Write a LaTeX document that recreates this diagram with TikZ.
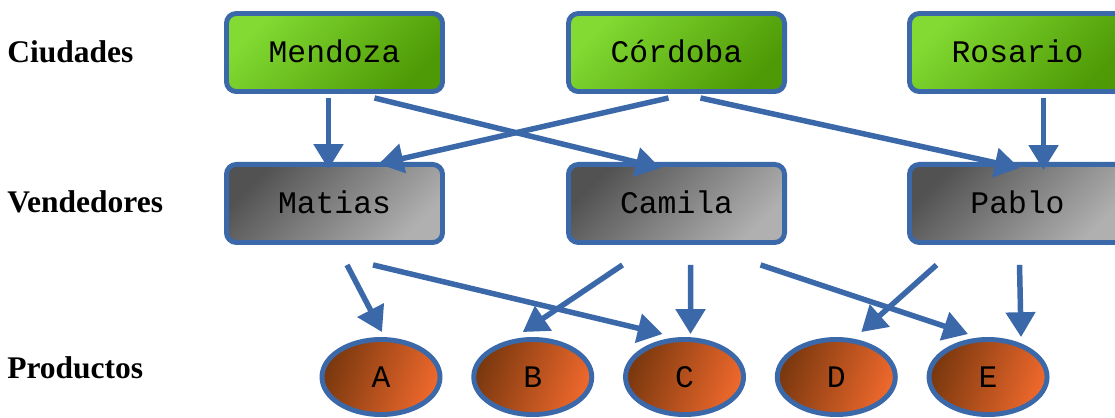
\documentclass[tikz,border=0pt]{standalone}
\usepackage{fontspec}
\setmainfont{Liberation Serif}
\setmonofont{Liberation Mono}
\usetikzlibrary{
  arrows.meta,
  positioning,
  calc,
  shapes.geometric
}
\definecolor{edgeblue}{RGB}{58,104,168}
\definecolor{cityhi}{RGB}{130,218,50}
\definecolor{citylo}{RGB}{78,154,6}
\definecolor{sellerhi}{RGB}{82,82,82}
\definecolor{sellerlo}{RGB}{176,176,176}
\definecolor{prodlo}{RGB}{122,56,14}
\definecolor{prodhi}{RGB}{238,104,44}
\tikzset{
  citybox/.style={draw=edgeblue, line width=3.5pt, rounded corners=7pt,
    top color=cityhi, bottom color=citylo, shading angle=45,
    minimum width=5.4cm, minimum height=1.95cm,
    text height=14.7pt, text depth=0pt,
    font=\ttfamily\fontsize{22.3}{26}\selectfont},
  sellerbox/.style={citybox,
    top color=sellerhi, bottom color=sellerlo, shading angle=45},
  prodnode/.style={ellipse, draw=edgeblue, line width=3.5pt,
    top color=prodlo, bottom color=prodhi, shading angle=70,
    minimum width=2.95cm, minimum height=1.875cm, inner sep=0pt,
    text height=14.7pt, text depth=0pt,
    font=\ttfamily\fontsize{22.3}{26}\selectfont},
  rowlabel/.style={anchor=base west, inner sep=0pt,
    font=\bfseries\fontsize{22.4}{26}\selectfont},
  arr/.style={color=edgeblue, line width=3.9pt,
    -{Triangle[length=0.62cm, width=0.72cm]}},
}

\begin{document}
\begin{tikzpicture}[x=0.025cm, y=-0.025cm]
  \useasboundingbox (0,0) rectangle (1115,417);
  \clip (0,0) rectangle (1115,417);

  % Row labels
  \node[rowlabel] (ciudades) at (7,62) {Ciudades};
  \node[rowlabel] (vendedores) at (7,212) {Vendedores};
  \node[rowlabel] (productos) at (7,378) {Productos};

  % Ciudades
  \node[citybox] (mendoza) at (334.5,52.5) {Mendoza};
  \node[citybox, right=3.025cm of mendoza] (cordoba) {Córdoba};
  \node[citybox, right=3.0cm of cordoba] (rosario) {Rosario};

  % Vendedores
  \node[sellerbox, below=1.7cm of mendoza] (matias) {Matias};
  \node[sellerbox, below=1.7cm of cordoba] (camila) {Camila};
  \node[sellerbox, below=1.7cm of rosario] (pablo) {Pablo};

  % Productos
  \node[prodnode] (a) at (381,377) {A};
  \node[prodnode, right=0.72cm of a] (b) {B};
  \node[prodnode, right=0.72cm of b] (c) {C};
  \node[prodnode, right=0.72cm of c] (d) {D};
  \node[prodnode, right=0.72cm of d] (e) {E};

  % Ciudades -> Vendedores
  \draw[arr] ($(mendoza.south)+(-6,4)$) -- ($(matias.north)+(-6,7)$);
  \draw[arr] ($(mendoza.south)+(40,4)$) -- ($(camila.north)+(-16,6)$);
  \draw[arr] ($(cordoba.south)+(-8,4)$) -- ($(matias.north)+(44,2)$);
  \draw[arr] ($(cordoba.south)+(24,4)$) -- ($(pablo.north)+(2,6)$);
  \draw[arr] ($(rosario.south)+(26,4)$) -- ($(pablo.north)+(26,8)$);

  % Vendedores -> Productos
  \draw[arr] ($(matias.south)+(12.5,20)$) -- ($(a.north)+(1,-5)$);
  \draw[arr] ($(matias.south)+(38.5,20)$) -- ($(c.north)+(-22,-3)$);
  \draw[arr] ($(camila.south)+(-54,20)$) -- ($(b.north)+(-10,-5)$);
  \draw[arr] ($(camila.south)+(14,20)$) -- ($(c.north)+(6,-3)$);
  \draw[arr] ($(camila.south)+(84,20)$) -- ($(e.north)+(-20,-3)$);
  \draw[arr] ($(pablo.south)+(-81,20)$) -- ($(d.north)+(25,-5)$);
  \draw[arr] ($(pablo.south)+(2,20)$) -- ($(e.north)+(33,0)$);
\end{tikzpicture}
\end{document}
